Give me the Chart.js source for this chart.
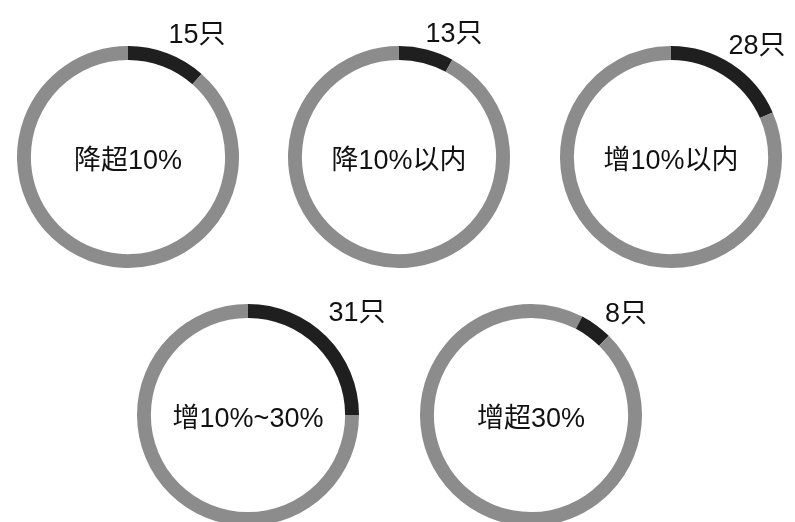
<!DOCTYPE html>
<html>
<head>
<meta charset="utf-8">
<script src="https://cdn.jsdelivr.net/npm/chart.js@4/dist/chart.umd.min.js"></script>
<style>
  html, body { margin:0; padding:0; width:795px; height:522px; overflow:hidden; background:#fff; }
  #wrap { position:relative; width:795px; height:522px; }
  canvas { position:absolute; }
  .lbl { position:absolute; font-family:"Liberation Sans","Noto Sans CJK SC",sans-serif; color:#111; white-space:nowrap; transform:translate(-50%,-50%); line-height:1; }
  .center { font-size:27px; }
  .count { font-size:27px; }
</style>
</head>
<body>
<div id="wrap"></div>
<script>
const categories = ['降超10%', '降10%以内', '增10%以内', '增10%~30%', '增超30%'];
const counts = [15, 13, 28, 31, 8];
const restBefore = [0, 0, 0, 0, 13];
const restAfter = [115, 150, 124, 93, 149];
const unit = '只';

const layout = [
  {cx:128, cy:157, tx:197, ty:34},
  {cx:399, cy:157, tx:454, ty:33},
  {cx:671, cy:157, tx:757, ty:45},
  {cx:248, cy:415, tx:357, ty:312},
  {cx:531, cy:415, tx:626, ty:313}
];

const wrap = document.getElementById('wrap');
const SIZE = 240;
categories.forEach((cat, i) => {
  const L = layout[i];
  const cv = document.createElement('canvas');
  cv.width = SIZE; cv.height = SIZE;
  cv.style.width = SIZE + 'px'; cv.style.height = SIZE + 'px';
  cv.style.left = (L.cx - SIZE/2) + 'px';
  cv.style.top = (L.cy - SIZE/2) + 'px';
  wrap.appendChild(cv);
  new Chart(cv, {
    type: 'doughnut',
    data: {
      labels: ['其他前', cat, '其他'],
      datasets: [{
        data: [restBefore[i], counts[i], restAfter[i]],
        backgroundColor: ['#8c8c8c', '#1f1f1f', '#8c8c8c'],
        borderWidth: 0
      }]
    },
    options: {
      responsive: false,
      animation: false,
      radius: 111,
      cutout: '87.5%',
      plugins: { legend: { display:false }, tooltip: { enabled:false } }
    }
  });
  const c = document.createElement('div');
  c.className = 'lbl center';
  c.textContent = cat;
  c.style.left = L.cx + 'px';
  c.style.top = (L.cy + 3) + 'px';
  wrap.appendChild(c);
  const t = document.createElement('div');
  t.className = 'lbl count';
  t.textContent = counts[i] + unit;
  t.style.left = L.tx + 'px';
  t.style.top = L.ty + 'px';
  wrap.appendChild(t);
});
</script>
</body>
</html>
